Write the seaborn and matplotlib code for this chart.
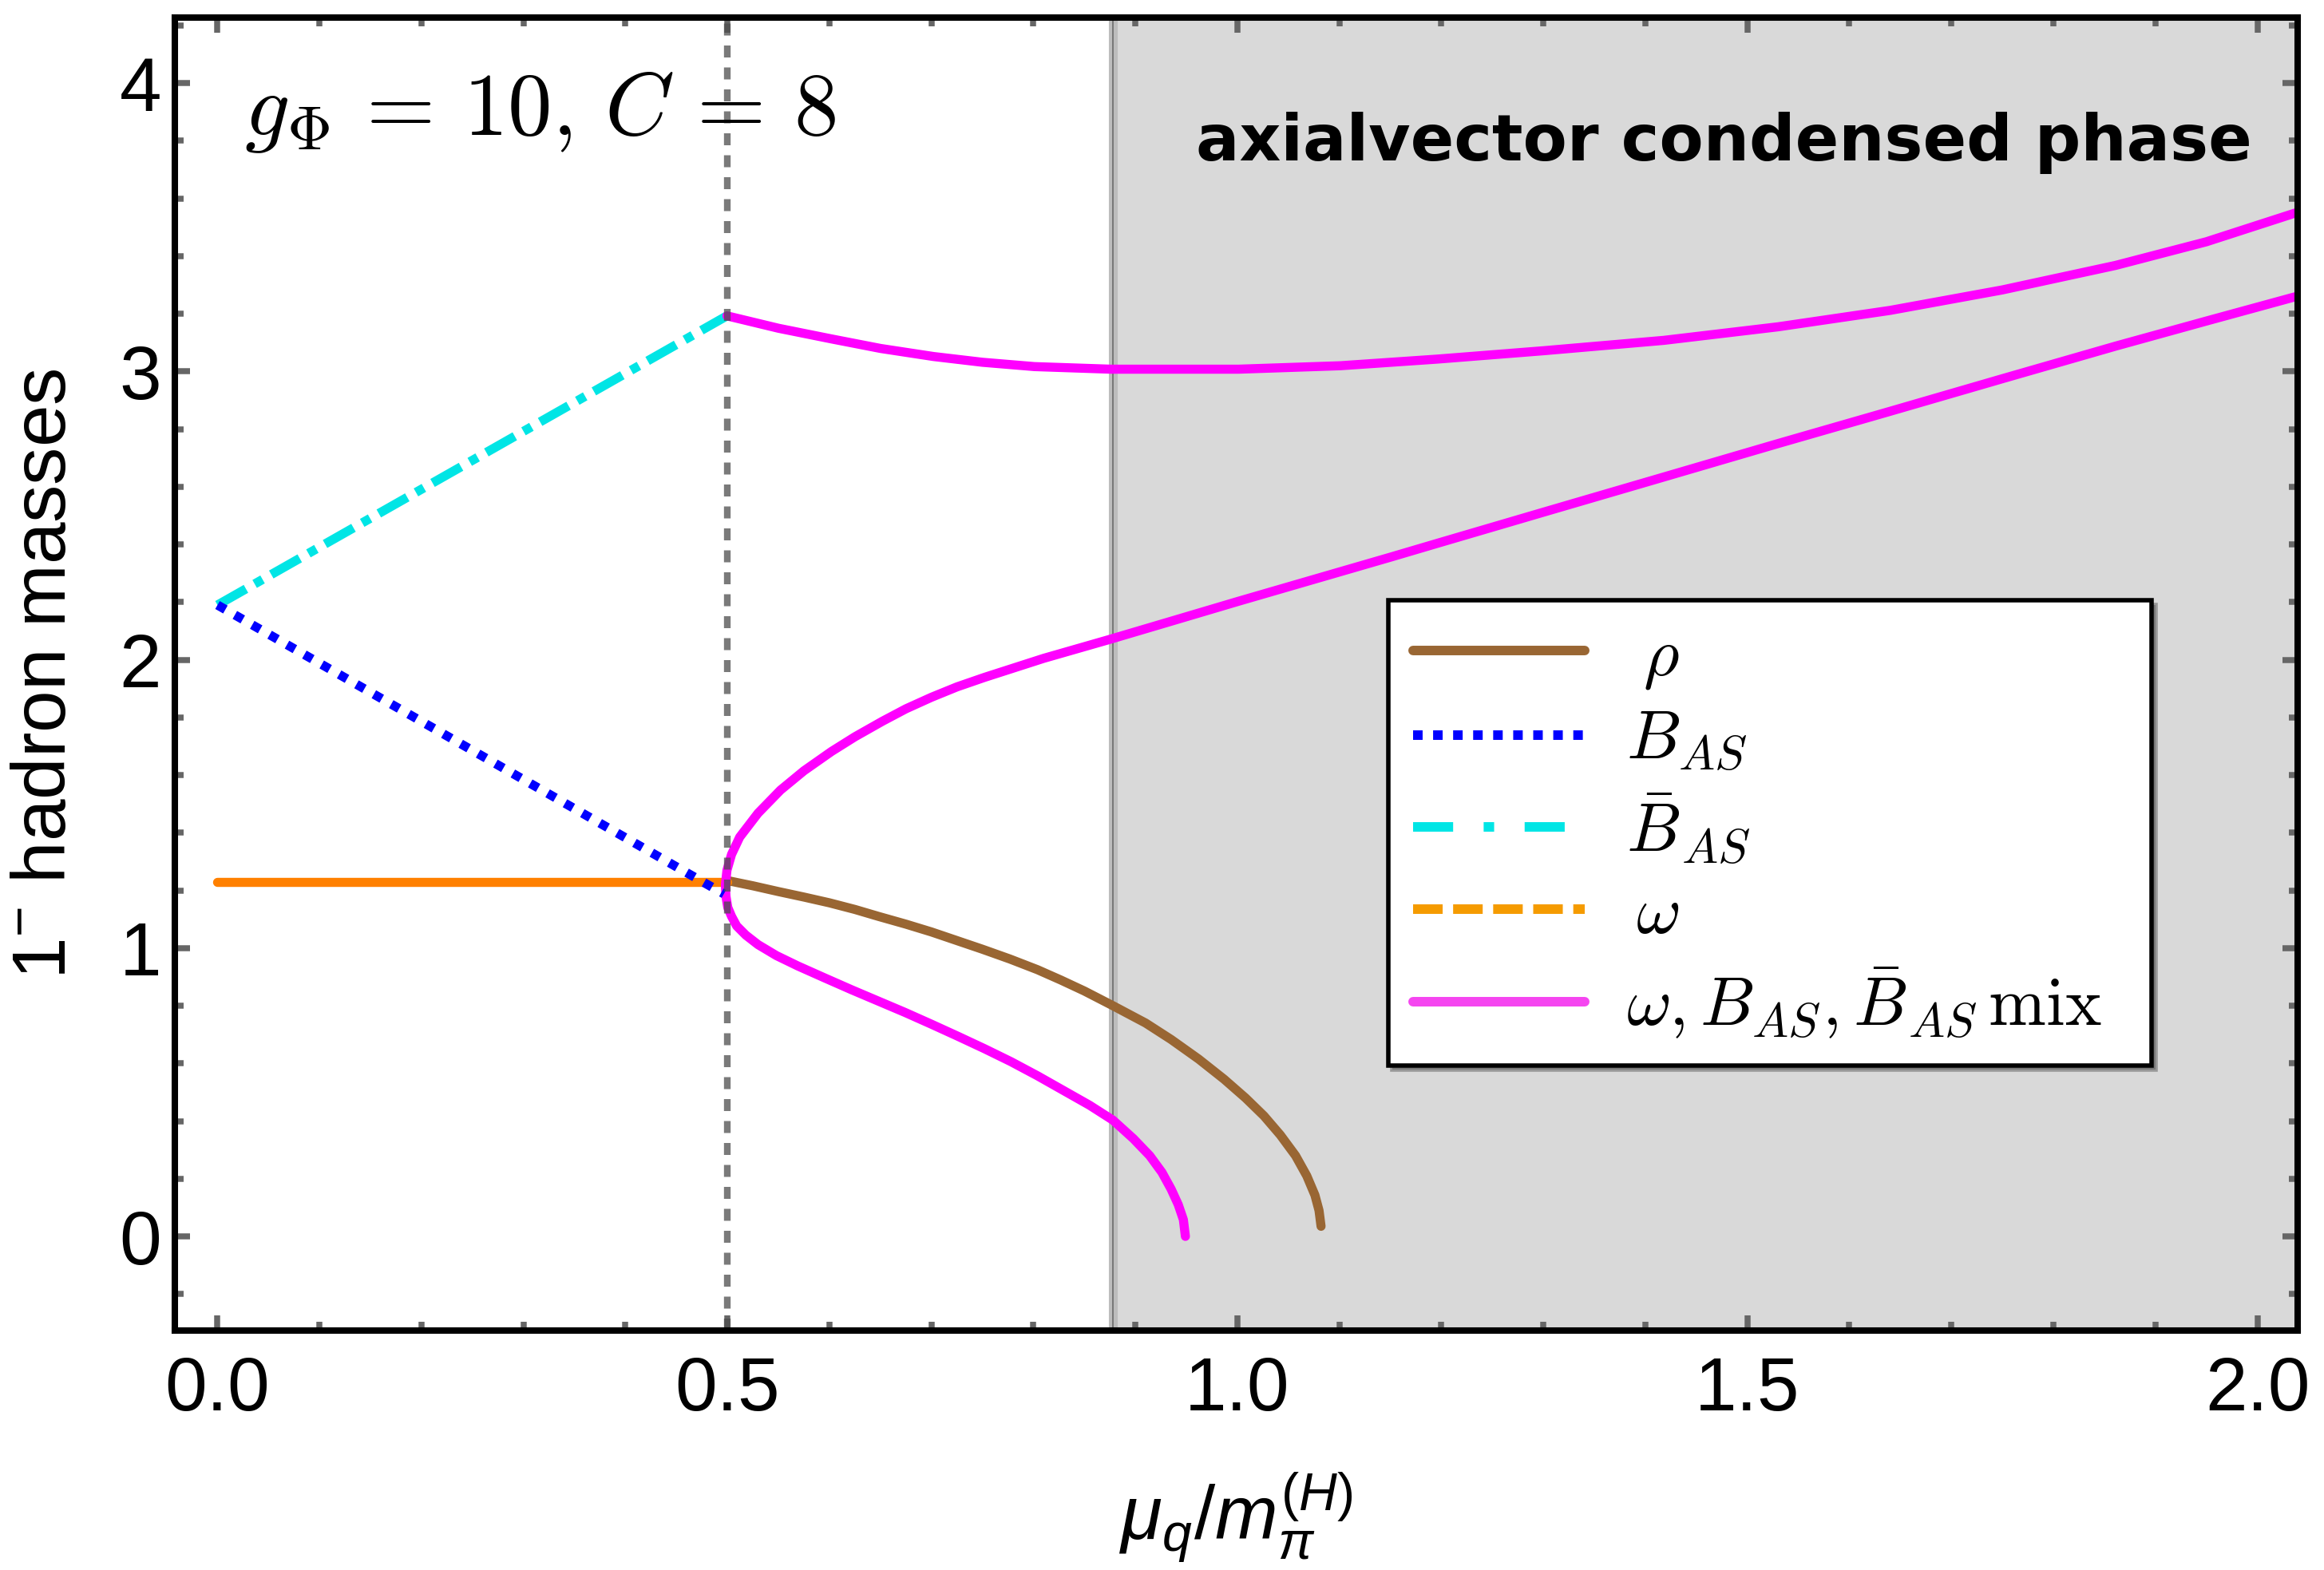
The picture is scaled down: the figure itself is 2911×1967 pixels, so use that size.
import matplotlib
matplotlib.use('Agg')
import matplotlib.pyplot as plt
from matplotlib.lines import Line2D
from matplotlib.font_manager import FontProperties
from matplotlib.ticker import MultipleLocator, FormatStrFormatter
import seaborn as sns

# values: x = mu_q / m_pi^(H), y = 1^- hadron mass
omega_mu = [0.0, 0.5]
omega_m = [1.23, 1.23]

bas_mu = [0.0, 0.4965]
bas_m = [2.19, 1.188]

bbar_mu = [0.0, 0.4995]
bbar_m = [2.19, 3.193]

rho_mu = [0.499, 0.525, 0.55, 0.575, 0.60, 0.625, 0.648, 0.675, 0.70, 0.725, 0.75, 0.777,
          0.804, 0.827, 0.85, 0.878, 0.91, 0.935, 0.962, 0.987, 1.008, 1.026, 1.042,
          1.057, 1.068, 1.076, 1.080, 1.082]
rho_m = [1.235, 1.216, 1.196, 1.177, 1.157, 1.134, 1.110, 1.083, 1.056, 1.026, 0.996, 0.962,
         0.925, 0.889, 0.851, 0.800, 0.740, 0.683, 0.615, 0.545, 0.480, 0.418, 0.352,
         0.280, 0.210, 0.143, 0.090, 0.035]

# three branches of the omega / B_AS / Bbar_AS mixed states
mix_hi_mu = [0.4995, 0.55, 0.602, 0.65, 0.702, 0.75, 0.801, 0.876, 1.001, 1.101, 1.196,
             1.30, 1.418, 1.53, 1.64, 1.75, 1.861, 1.95, 2.04]
mix_hi_m = [3.193, 3.150, 3.113, 3.080, 3.052, 3.032, 3.017, 3.008, 3.008, 3.020, 3.043,
            3.072, 3.108, 3.155, 3.212, 3.283, 3.368, 3.450, 3.553]

mix_mid_mu = [0.498, 0.4995, 0.504, 0.512, 0.530, 0.552, 0.575, 0.602, 0.625, 0.652, 0.675,
              0.700, 0.725, 0.752, 0.810, 0.876, 0.940, 1.001, 1.075, 1.151, 1.196, 1.300,
              1.418, 1.530, 1.640, 1.750, 1.861, 1.950, 2.040]
mix_mid_m = [1.220, 1.270, 1.325, 1.385, 1.468, 1.548, 1.615, 1.682, 1.733, 1.787, 1.830,
             1.870, 1.906, 1.939, 2.005, 2.072, 2.139, 2.203, 2.279, 2.357, 2.404, 2.512,
             2.634, 2.750, 2.862, 2.975, 3.088, 3.175, 3.262]

mix_lo_mu = [0.498, 0.4985, 0.5003, 0.504, 0.509, 0.518, 0.530, 0.548, 0.569, 0.595, 0.622,
             0.648, 0.674, 0.700, 0.726, 0.752, 0.778, 0.804, 0.830, 0.855, 0.878, 0.898,
             0.914, 0.926, 0.935, 0.942, 0.947, 0.949]
mix_lo_m = [1.220, 1.180, 1.141, 1.110, 1.077, 1.045, 1.012, 0.974, 0.938, 0.897, 0.855,
            0.816, 0.777, 0.736, 0.694, 0.651, 0.606, 0.557, 0.505, 0.455, 0.403, 0.339,
            0.280, 0.222, 0.164, 0.110, 0.058, 0.0]

mu_split = 0.5        # dotted vertical line
mu_condensed = 0.878  # start of axialvector condensed phase

legend_labels = [r'$\;\rho$', r'$B_{AS}$', r'$\bar{B}_{AS}$', r'$\,\omega$',
                 r'$\omega, B_{AS}, \bar{B}_{AS}\,\mathrm{mix}$']

c_rho = '#996633'
c_bas = '#0000ff'
c_bbar = '#00e5e5'
c_omega = '#ff8000'
c_mix = '#ff00ff'

sns.set_style('ticks')
plt.rcParams['font.family'] = ['Liberation Sans', 'DejaVu Sans']
plt.rcParams['mathtext.fontset'] = 'custom'
plt.rcParams['mathtext.rm'] = 'Liberation Sans'
plt.rcParams['mathtext.it'] = 'Liberation Sans:italic'
plt.rcParams['mathtext.bf'] = 'Liberation Sans:bold'
plt.rcParams['text.color'] = 'black'
plt.rcParams['axes.labelcolor'] = 'black'

fig = plt.figure(figsize=(2911 / 200, 1967 / 200), dpi=200)
ax = fig.add_axes([0.0752, 0.1525, 0.9887 - 0.0752, 0.9888 - 0.1525])

lw = 4.1
ax.axvspan(mu_condensed, 3.0, color='#d9d9d9', zorder=0, lw=0)
ax.axvline(mu_condensed, color='#bdbdbd', lw=4.0, zorder=0.5)
ax.axvline(mu_condensed, color='#777777', lw=0.7, zorder=0.6)

sns.lineplot(x=rho_mu, y=rho_m, ax=ax, color=c_rho, lw=lw, estimator=None,
             sort=False, legend=False, zorder=3)
sns.lineplot(x=bbar_mu, y=bbar_m, ax=ax, color=c_bbar, lw=lw, estimator=None,
             sort=False, legend=False, linestyle=(0, (3.6, 1.1, 1.0, 1.1)), zorder=3)
sns.lineplot(x=omega_mu, y=omega_m, ax=ax, color=c_omega, lw=lw, estimator=None,
             sort=False, legend=False, zorder=3)
sns.lineplot(x=bas_mu, y=bas_m, ax=ax, color=c_bas, lw=lw, estimator=None,
             sort=False, legend=False, linestyle=(0, (1.0, 1.2)), zorder=3.5)
for xs, ys in [(mix_hi_mu, mix_hi_m), (mix_mid_mu, mix_mid_m), (mix_lo_mu, mix_lo_m)]:
    sns.lineplot(x=xs, y=ys, ax=ax, color=c_mix, lw=lw, estimator=None,
                 sort=False, legend=False, zorder=3)

ax.axvline(mu_split, color='#4d4d4d', lw=3.0, alpha=0.75,
           linestyle=(0, (1.8, 1.5)), zorder=4)

ax.set_xlim(-0.0419, 2.0396)
ax.set_ylim(-0.3267, 4.2276)

ax.xaxis.set_major_locator(MultipleLocator(0.5))
ax.xaxis.set_minor_locator(MultipleLocator(0.1))
ax.yaxis.set_major_locator(MultipleLocator(1))
ax.yaxis.set_minor_locator(MultipleLocator(0.2))
ax.xaxis.set_major_formatter(FormatStrFormatter('%.1f'))
ax.yaxis.set_major_formatter(FormatStrFormatter('%d'))

ax.tick_params(which='both', direction='in', top=True, right=True,
               color='#666666', width=2.7, labelsize=34, labelcolor='black')
ax.tick_params(which='major', length=7)
ax.tick_params(which='minor', length=4)
ax.tick_params(axis='x', which='major', pad=11)
ax.tick_params(axis='y', which='major', pad=6)
for sp in ax.spines.values():
    sp.set_linewidth(2.9)
    sp.set_color('black')
    sp.set_zorder(6)

ax.set_xlabel(r'$\mu_q/m_\pi^{(H)}$', fontsize=34, labelpad=20)
ax.set_ylabel(r'$1^{-}$ hadron masses', fontsize=34, labelpad=17)

ax.text(0.0327, 0.9106, r'$g_\Phi\,=\,10,\,C\,=\,8$', transform=ax.transAxes,
        fontsize=40, math_fontfamily='cm', ha='left', va='baseline', zorder=5)
ax.text(0.9786, 0.891, 'axialvector condensed phase', transform=ax.transAxes,
        fontsize=29, fontweight='bold', family='DejaVu Sans', color='black',
        ha='right', va='baseline', zorder=5)

handles = [
    Line2D([], [], color=c_rho, lw=4.3),
    Line2D([], [], color=c_bas, lw=4.3, linestyle=(0, (1.0, 1.1))),
    Line2D([], [], color=c_bbar, lw=4.3, linestyle=(0, (4.2, 3.2, 1.1, 3.2))),
    Line2D([], [], color='#f59b00', lw=4.3, linestyle=(0, (3.1, 1.1))),
    Line2D([], [], color='#f545f0', lw=4.3),
]
leg = ax.legend(handles, legend_labels, loc='upper left',
                bbox_to_anchor=(0.5716, 0.2085, 0.3594, 0.3477), mode='expand',
                borderaxespad=0, prop=FontProperties(size=31, math_fontfamily='cm'),
                handlelength=2.5, handletextpad=0.6, labelspacing=0.27,
                borderpad=0.36, fancybox=False, framealpha=1, facecolor='white',
                edgecolor='black', shadow={'color': '0.35', 'alpha': 0.5})
leg.get_frame().set_linewidth(2.0)
leg.set_zorder(7)

fig.savefig('out.png', dpi=200)
